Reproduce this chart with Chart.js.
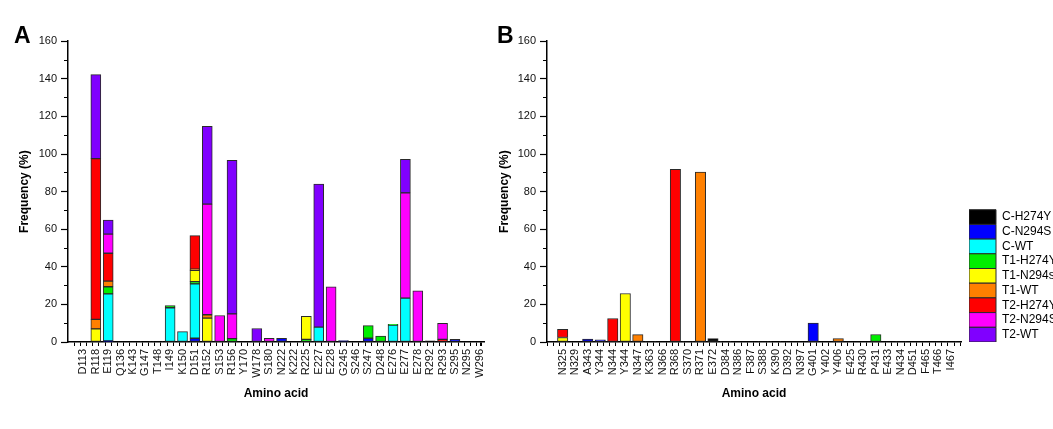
<!DOCTYPE html>
<html>
<head>
<meta charset="utf-8">
<script src="https://cdn.jsdelivr.net/npm/chart.js@4.4.1/dist/chart.umd.min.js"></script>
<style>
  html, body { margin: 0; padding: 0; background: #fff; overflow: hidden; }
  .panel { position: absolute; top: 0; height: 429px; }
</style>
</head>
<body>
<div class="panel" style="left:0;width:492px"><canvas id="chartA" width="492" height="429"></canvas></div>
<div class="panel" style="left:479px;width:590px"><canvas id="chartB" width="590" height="429"></canvas></div>
<script>
// series names and colours (stack order, bottom first)
const seriesNames = ['C-H274Y', 'C-N294S', 'C-WT', 'T1-H274Y', 'T1-N294s', 'T1-WT', 'T2-H274Y', 'T2-N294S', 'T2-WT'];
const seriesColors = ['#000000', '#0000ff', '#00ffff', '#00ee00', '#ffff00', '#ff8000', '#ff0000', '#ff00ff', '#8000ff'];

const yTicks = [0, 20, 40, 60, 80, 100, 120, 140, 160];

// panel A
const residuesA = ['D113', 'R118', 'E119', 'Q136', 'K143', 'G147', 'T148', 'I149', 'K150', 'D151', 'R152',
  'S153', 'R156', 'Y170', 'W178', 'S180', 'N222', 'K222', 'R225', 'E227', 'E228', 'G245', 'S246', 'S247',
  'D248', 'E276', 'E277', 'E278', 'R292', 'R293', 'S295', 'N295', 'W296'];
const cH274Y_A  = [0, 0, 0, 0, 0, 0.4, 0.4, 0, 0, 0, 0, 0, 0, 0, 0, 0, 0, 0, 0, 0, 0, 0, 0, 0, 0, 0, 0, 0, 0.6, 0, 0, 0, 0];
const cN294S_A  = [0, 0, 0.6, 0, 0, 0, 0, 0, 0, 2.0, 0, 0, 0, 0, 0, 0, 2.0, 0, 0, 0, 0, 0.8, 0, 2.0, 0, 0, 0, 0, 0, 0, 1.4, 0, 0];
const cWT_A     = [0, 0, 25.0, 0, 0, 0, 0, 18.2, 5.5, 28.9, 0, 0, 0, 0, 0, 0, 0, 0, 0, 7.9, 0, 0, 0, 0, 0, 9.0, 23.3, 0, 0, 0, 0, 0, 0];
const t1H274Y_A = [0, 0, 3.8, 0, 0, 0, 0, 1.2, 0, 1.2, 0, 0, 1.8, 0, 0, 0, 0, 0, 1.4, 0, 0, 0, 0, 6.7, 3.2, 0.4, 0, 0, 0, 0, 0, 0, 0];
const t1N294s_A = [0, 7.0, 0, 0, 0, 0, 0, 0, 0, 6.0, 12.7, 0, 0, 0, 0, 0, 0, 0, 12.3, 0, 0, 0, 0, 0, 0, 0, 0, 0, 0, 0, 0, 0, 0];
const t1WT_A    = [0, 5.0, 3.0, 0, 0, 0, 0, 0, 0, 0.6, 1.8, 0, 0, 0, 0, 0, 0, 0, 0, 0, 0, 0, 0, 0, 0, 0, 0, 0, 0, 0, 0, 0, 0];
const t2H274Y_A = [0, 85.5, 14.8, 0, 0, 0, 0, 0, 0, 17.9, 0, 0, 0, 0, 0, 0, 0, 0, 0, 0, 0, 0, 0, 0, 0, 0, 0, 0, 0, 1.4, 0, 0, 0];
const t2N294S_A = [0, 0, 10.2, 0, 0, 0, 0, 0, 0, 0, 58.8, 14.1, 13.2, 0, 0, 2.0, 0, 0, 0, 0, 29.4, 0, 0, 0, 0, 0, 56.0, 27.2, 0, 8.5, 0, 0, 0];
const t2WT_A    = [0, 44.7, 7.4, 0, 0, 0, 0, 0, 0, 0, 41.4, 0, 81.6, 0, 7.2, 0, 0, 0, 0, 76.1, 0, 0, 0, 0, 0, 0, 17.8, 0, 0, 0, 0, 0, 0];

// panel B
const residuesB = ['N325', 'N329', 'A343', 'Y344', 'N344', 'Y344', 'N347', 'K363', 'N366', 'R368', 'S370',
  'R371', 'E372', 'D384', 'N386', 'F387', 'S388', 'K390', 'D392', 'N397', 'G401', 'Y402', 'Y406', 'E425',
  'R430', 'P431', 'E433', 'N434', 'D451', 'F465', 'T466', 'I467'];
const cH274Y_B  = [0, 0, 0, 0, 0, 0, 0, 0.3, 0, 0, 0.3, 0, 1.8, 0.3, 0, 0, 0.3, 0.4, 0, 0, 0, 0, 0, 0, 0, 0, 0, 0.3, 0, 0, 0, 0.4];
const cN294S_B  = [0, 0, 1.6, 1.1, 0, 0, 0, 0, 0, 0, 0, 0, 0, 0, 0, 0, 0, 0, 0, 0, 10.0, 0, 0, 0, 0, 0, 0, 0, 0, 0, 0, 0];
const cWT_B     = [0, 0, 0, 0, 0, 0, 0, 0, 0, 0, 0, 0, 0, 0, 0, 0, 0, 0, 0, 0, 0, 0, 0, 0, 0, 0, 0, 0, 0, 0, 0, 0];
const t1H274Y_B = [0, 0, 0, 0, 0, 0, 0, 0, 0, 0, 0, 0, 0, 0, 0, 0, 0, 0, 0, 0, 0, 0, 0, 0, 0, 4.0, 0, 0, 0, 0, 0, 0];
const t1N294s_B = [2.4, 0, 0, 0, 0, 25.8, 0, 0, 0, 0, 0, 0, 0, 0, 0, 0, 0, 0, 0, 0, 0, 0, 0, 0, 0, 0, 0, 0, 0, 0, 0, 0];
const t1WT_B    = [0, 0, 0, 0, 0, 0, 3.9, 0, 0, 0, 0, 90.4, 0, 0, 0, 0, 0, 0, 0, 0, 0, 0, 1.8, 0, 0, 0, 0, 0, 0, 0, 0, 0];
const t2H274Y_B = [4.4, 0, 0, 0, 12.5, 0, 0, 0, 0, 91.8, 0, 0, 0, 0, 0, 0, 0, 0, 0, 0, 0, 0, 0, 0, 0, 0, 0, 0, 0, 0, 0, 0];
const t2N294S_B = [0, 0, 0, 0, 0, 0, 0, 0, 0, 0, 0, 0, 0, 0, 0, 0, 0, 0, 0, 0, 0, 0, 0, 0, 0, 0, 0, 0, 0, 0, 0, 0];
const t2WT_B    = [0, 0, 0, 0, 0, 0, 0, 0, 0, 0, 0, 0, 0, 0, 0, 0, 0, 0, 0, 0, 0, 0, 0, 0, 0, 0, 0, 0, 0, 0, 0, 0];

const seriesA = [cH274Y_A, cN294S_A, cWT_A, t1H274Y_A, t1N294s_A, t1WT_A, t2H274Y_A, t2N294S_A, t2WT_A];
const seriesB = [cH274Y_B, cN294S_B, cWT_B, t1H274Y_B, t1N294s_B, t1WT_B, t2H274Y_B, t2N294S_B, t2WT_B];

Chart.defaults.font.family = '"Liberation Sans", Arial, sans-serif';
Chart.defaults.color = '#111';

function makePanel(canvas, letter, residues, series, opts) {
  const datasets = series.map((vals, k) => ({
    label: seriesNames[k],
    data: residues.map((r, i) => ({x: i + 1, y: vals[i] || null})),
    backgroundColor: seriesColors[k],
    borderColor: '#2a2a2a',
    borderWidth: 1,
    borderSkipped: false,
    barThickness: opts.barW
  }));

  const scales = {
    x: {
      type: 'linear',
      bounds: 'data',
      min: 0,
      max: opts.xMax,
      stacked: true,
      ticks: {
        stepSize: 0.5,
        includeBounds: false,
        autoSkip: false,
        minRotation: 90,
        maxRotation: 90,
        padding: 3,
        font: {size: 11},
        callback: v => (Number.isInteger(v) && v >= 1 && v <= residues.length) ? residues[v - 1] : ''
      },
      grid: {drawOnChartArea: false, tickLength: 4, color: '#000', tickWidth: 1},
      border: {color: '#000', width: 1.5},
      title: {display: true, text: 'Amino acid', font: {size: 12, weight: 'bold'}, color: '#000',
        padding: {top: 0, bottom: 28}},
      afterFit: s => { s.height = 87; s.paddingLeft = 0; s.paddingRight = 0; }
    },
    y: {
      type: 'linear',
      weight: 1,
      min: 0,
      max: 160,
      stacked: true,
      afterBuildTicks: s => { s.ticks = yTicks.map(v => ({value: v})); },
      ticks: {padding: 4, font: {size: 11}},
      grid: {drawOnChartArea: false, tickLength: 7, color: '#000', tickWidth: 1.2},
      border: {color: '#000', width: 1.5},
      title: {display: true, text: 'Frequency (%)', font: {size: 12, weight: 'bold'}, color: '#000',
        padding: {top: opts.titlePad, bottom: 0}},
      afterFit: s => { s.width = opts.yW; }
    },
    yMinor: {
      type: 'linear',
      position: 'left',
      weight: 0,
      min: 0,
      max: 160,
      ticks: {display: false, stepSize: 10},
      grid: {drawOnChartArea: false, tickLength: 4, color: '#000', tickWidth: 1},
      border: {display: false},
      afterFit: s => { s.width = 0; }
    }
  };
  if (opts.legend) {
    scales.gap = {
      type: 'linear',
      position: 'right',
      ticks: {display: false},
      grid: {display: false},
      border: {display: false},
      afterFit: s => { s.width = 8; }
    };
  }

  return new Chart(canvas, {
    type: 'bar',
    data: {datasets},
    options: {
      responsive: false,
      animation: false,
      layout: {padding: {left: opts.padL, right: opts.padR, top: 0, bottom: 0}},
      scales,
      plugins: {
        tooltip: {enabled: false},
        title: {
          display: true,
          text: letter,
          align: 'start',
          color: '#000',
          font: {size: 23, weight: 'bold', lineHeight: 0.4},
          padding: {top: 32, bottom: 0}
        },
        legend: {
          display: !!opts.legend,
          position: 'right',
          align: 'end',
          fullSize: false,
          maxWidth: 85,
          labels: {boxWidth: 27, boxHeight: 14.7, padding: 0, color: '#000', font: {size: 12}}
        }
      }
    }
  });
}

makePanel(document.getElementById('chartA'), 'A', residuesA, seriesA,
  {xMax: 33.1, barW: 10, padL: 14, padR: 8, yW: 54, titlePad: 3});
makePanel(document.getElementById('chartB'), 'B', residuesB, seriesB,
  {xMax: 32.55, barW: 10.4, padL: 18, padR: 15, yW: 50, titlePad: 0, legend: true});
</script>
</body>
</html>
